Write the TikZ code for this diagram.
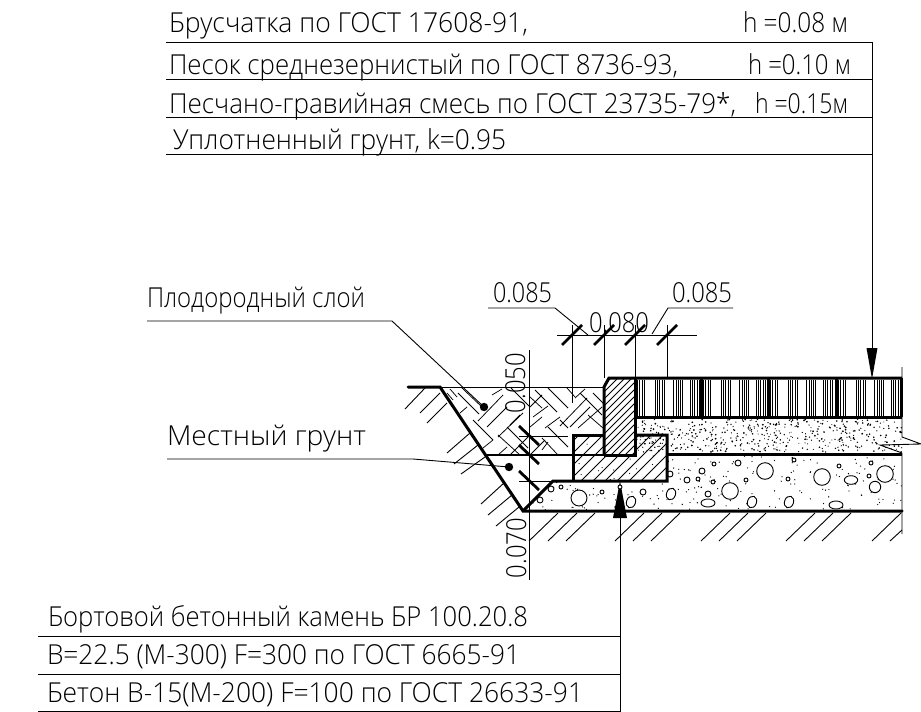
\documentclass[tikz,border=0pt]{standalone}
\usepackage{graphicx}
\usepackage{fontspec}
\setmainfont{Open Sans}[UprightFont=* Light]
\usetikzlibrary{arrows.meta}
\newcommand\tw[2]{\resizebox{#1pt}{\height}{#2}}
\tikzset{
 lbl/.style={anchor=base west,inner sep=0pt,outer sep=0pt,font=\fontsize{27.5}{28}\selectfont},
 thin line/.style={line width=0.9pt},
 thick line/.style={line width=3pt},
 tick mark/.style={line width=2.8pt},
 hatch/.style={line width=0.75pt},
 fine/.style={line width=0.8pt},
 dot/.style={fill=black,draw=none},
 pebble/.style={line width=0.9pt,draw=black,fill=white},
 bigarrow/.style={fill=black,draw=none}
}
\begin{document}
\begin{tikzpicture}[x=1pt,y=-1pt]
\useasboundingbox (0,0) rectangle (921,712);
% ---- table texts
\node[lbl] (t1) at (169,32) {\tw{359}{Брусчатка по ГОСТ 17608-91,}};
\node[lbl] (t1h) at (743,32) {\tw{105}{h =0.08 м}};
\node[lbl] (t2) at (169,74) {\tw{509}{Песок среднезернистый по ГОСТ 8736-93,}};
\node[lbl] (t2h) at (748,74) {\tw{103}{h =0.10 м}};
\node[lbl] (t3) at (169,113) {\tw{567}{Песчано-гравийная смесь по ГОСТ 23735-79*,}};
\node[lbl] (t3h) at (755,113) {\tw{93}{h =0.15м}};
\node[lbl] (t4) at (173,149) {\tw{333}{Уплотненный грунт, k=0.95}};
\node[lbl] (b1) at (48,626) {\tw{480}{Бортовой бетонный камень БР 100.20.8}};
\node[lbl] (b2) at (47,664) {\tw{473}{В=22.5 (М-300) F=300 по ГОСТ 6665-91}};
\node[lbl] (b3) at (47,702) {\tw{536}{Бетон В-15(М-200) F=100 по ГОСТ 26633-91}};
\node[lbl] (l1) at (147,307) {\tw{218}{Плодородный слой}};
\node[lbl] (l2) at (167,445) {\tw{199}{Местный грунт}};
\node[lbl] (d1) at (493,302) {\tw{59}{0.085}};
\node[lbl] (d2) at (589,332) {\tw{60}{0.080}};
\node[lbl] (d3) at (672,302) {\tw{60}{0.085}};
\node[lbl,rotate=90] (d4) at (525,413) {\tw{60}{0.050}};
\node[lbl,rotate=90] (d5) at (526,578) {\tw{60}{0.070}};
% ---- table rules and leaders
\foreach \y in {42,79,117,154} \draw[thin line] (166,\y) -- (872,\y);
\foreach \y in {636,674,711.5} \draw[thin line] (38,\y) -- (620,\y);
\draw[thin line] (872,42) -- (872,350);
\draw[thin line] (620,711.5) -- (620,516);
\fill[bigarrow] (872,379) -- (866.5,348) -- (877.5,348) -- cycle;
\fill[bigarrow] (620,481) -- (613,518) -- (627,518) -- cycle;
% ---- herringbone
\begin{scope}
\clip (440,387) -- (604,387) -- (604,435) -- (573,435) -- (573,455) -- (487,455) -- cycle;
\foreach \xa/\ya/\xb/\yb in {
 458/393/479/414, 447/393/453/400, 450/389/457/397, 462/388/483/408, 473/420/493/440, 498/435/520/455, 507/427/528/448,
 535/390/557/412, 548/388/568/408, 567/388/575/397, 580/393/602/415, 593/393/604/404, 530/397/542/408,
 560/420/568/428, 548/427/568/447, 542/438/558/455, 588/415/603/428, 511/388/530/407,
 440/408/448/401, 460/413/467/407, 478/421/503/395, 487/427/507/407, 498/437/523/413, 498/455/507/447, 483/448/493/440, 492/395/502/389,
 530/407/542/395, 533/417/548/406, 560/426/587/398, 570/427/590/407, 578/428/602/407, 545/428/560/417, 542/450/548/442, 530/427/542/417,
 510/455/530/435, 530/455/545/440, 575/398/585/389, 510/425/520/415}
 \draw[hatch] (\xa,\ya) -- (\xb,\yb);
\end{scope}
% ---- kerb hatch
\begin{scope}
\clip (609,378) -- (635,378) -- (635,455) -- (604,455) -- (604,387) -- cycle;
\foreach \c in {440,447,...,660} \draw[hatch] (\c,500) -- (\c+160,340);
\end{scope}
% ---- base block hatch and dots
\begin{scope}
\clip (573,435) -- (604,435) -- (604,455) -- (635,455) -- (635,435) -- (667,435) -- (667,481) -- (573,481) -- cycle;
\foreach \c in {430,442,...,670} \draw[hatch] (\c,500) -- (\c+110,390);
\pgfmathsetseed{77}
\foreach \i in {1,...,28}{\pgfmathsetmacro\xx{573+94*rnd}\pgfmathsetmacro\yy{435+46*rnd}\fill (\xx,\yy) circle (0.6);}
\end{scope}
% ---- pavers
\foreach \b in {635,701,768,836}{
 \foreach \o in {2,4,7,9,20,22,24,27,29,38,41,43,45,47,55,57,59,62,64}
  \draw[fine] (\b+\o,380) -- (\b+\o,416);
}
% ---- sand
\begin{scope}
\clip (635,419) rectangle (902,452);
\pgfmathsetseed{123}
\foreach \i in {1,...,480}{\pgfmathsetmacro\xx{635+267*rnd}\pgfmathsetmacro\yy{419+33*rnd}\pgfmathsetmacro\rr{0.5+0.5*rnd}\fill (\xx,\yy) circle (\rr);}
\end{scope}
% ---- concrete
\begin{scope}
\clip (523,511) -- (553,481) -- (667,481) -- (667,454) -- (902,454) -- (902,511) -- cycle;
\pgfmathsetseed{31}
\foreach \i in {1,...,260}{\pgfmathsetmacro\xx{525+377*rnd}\pgfmathsetmacro\yy{456+54*rnd}\fill (\xx,\yy) circle (0.65);}
\foreach \x/\y/\r in {765/471/8.3,822/477/8.3,885/474/8.3,730/491/8.3,875/487/5.7,708/494/3,702/471/3,687/480/3,670/474/3,738/463/3,714/464/2,698/479/2,713/482/2,746/480/2,794/460/2,788/479/2,839/466/2,871/463/2,869/476/2,643/492/3,579/498/8,540/500/3,551/489/3,561/487/2,602/492/2,620/487/2}
 \draw[pebble] (\x,\y) circle (\r);
\foreach \x/\y/\rx/\ry/\a in {851/480/6.7/4.3/0,671/494/4.5/6/-20,708/503/7/4/0,752/502/4.5/6/-20,789/502/4.5/6/-20,836/505/7/4/0,631/502/4.5/6/-20}
 \draw[pebble,rotate around={\a:(\x,\y)}] (\x,\y) ellipse [x radius=\rx,y radius=\ry];
\end{scope}
% ---- ground hatch
\foreach \x/\y/\xe/\ye in {425/388/405/409,440/393/420/413,447/403/427/423,470/433/447/453,478/445/454/464,485/457/461/474,504/483/481/504,512/495/488/515,519/507/496/526}
 \draw[thin line] (\x,\y) -- (\xe,\ye);
\foreach \c in {558,577,595,644,662,680,730,748,766,815,833,851,901}
 \draw[thin line] (\c,513) -- (\c-29,541);
\draw[thin line] (902,530) -- (890,541);
% ---- outlines
\draw[thin line] (440,387) -- (604,387);
\draw[line width=1.4pt] (487,455) -- (604,455);
\draw[thin line] (519,436) -- (568,436);
\draw[thin line] (519,481) -- (553,481);
\draw[thick line,line cap=round] (408,387) -- (440,387) -- (523,511) -- (902,511);
\draw[thick line] (523,511) -- (553,481) -- (667,481) -- (667,435) -- (635,435);
\draw[thick line] (573,481) -- (573,435) -- (604,435);
\draw[thick line] (604,455) -- (604,387) -- (609,378) -- (902,378);
\draw[thick line] (604,455) -- (635,455) -- (635,378);
\draw[thick line] (635,417) -- (902,417);
\draw[thick line] (667,454) -- (902,454);
\foreach \x in {701,768,836,901} \draw[thick line] (\x,378) -- (\x,417);
% ---- break line
\draw[thin line] (902,367) -- (902,437) -- (921,444) -- (880,445) -- (902,453) -- (902,534);
% ---- leaders
\draw[thin line] (147,321) -- (392,321) -- (484,407);
\fill[dot] (484,407) circle (4.2);
\draw[thin line] (167,459) -- (413,459) -- (509,467);
\fill[dot] (509,467) circle (4.2);
\draw[thin line] (488,308) -- (555,308) -- (588,335);
\draw[thin line] (652,334) -- (668,308) -- (733,308);
\draw[thin line] (557,335) -- (697,335);
\draw[thin line] (572,325) -- (572,403);
\draw[thin line] (604,325) -- (604,378);
\draw[thin line] (635,325) -- (635,378);
\draw[thin line] (667,325) -- (667,378);
\draw[thin line] (529,350) -- (529,580);
\foreach \x in {572,604,635,667} \draw[tick mark] (\x-10,345) -- (\x+10,325);
\foreach \y in {436,455,481} \draw[tick mark] (519,\y-10) -- (539,\y+9);
\end{tikzpicture}
\end{document}
